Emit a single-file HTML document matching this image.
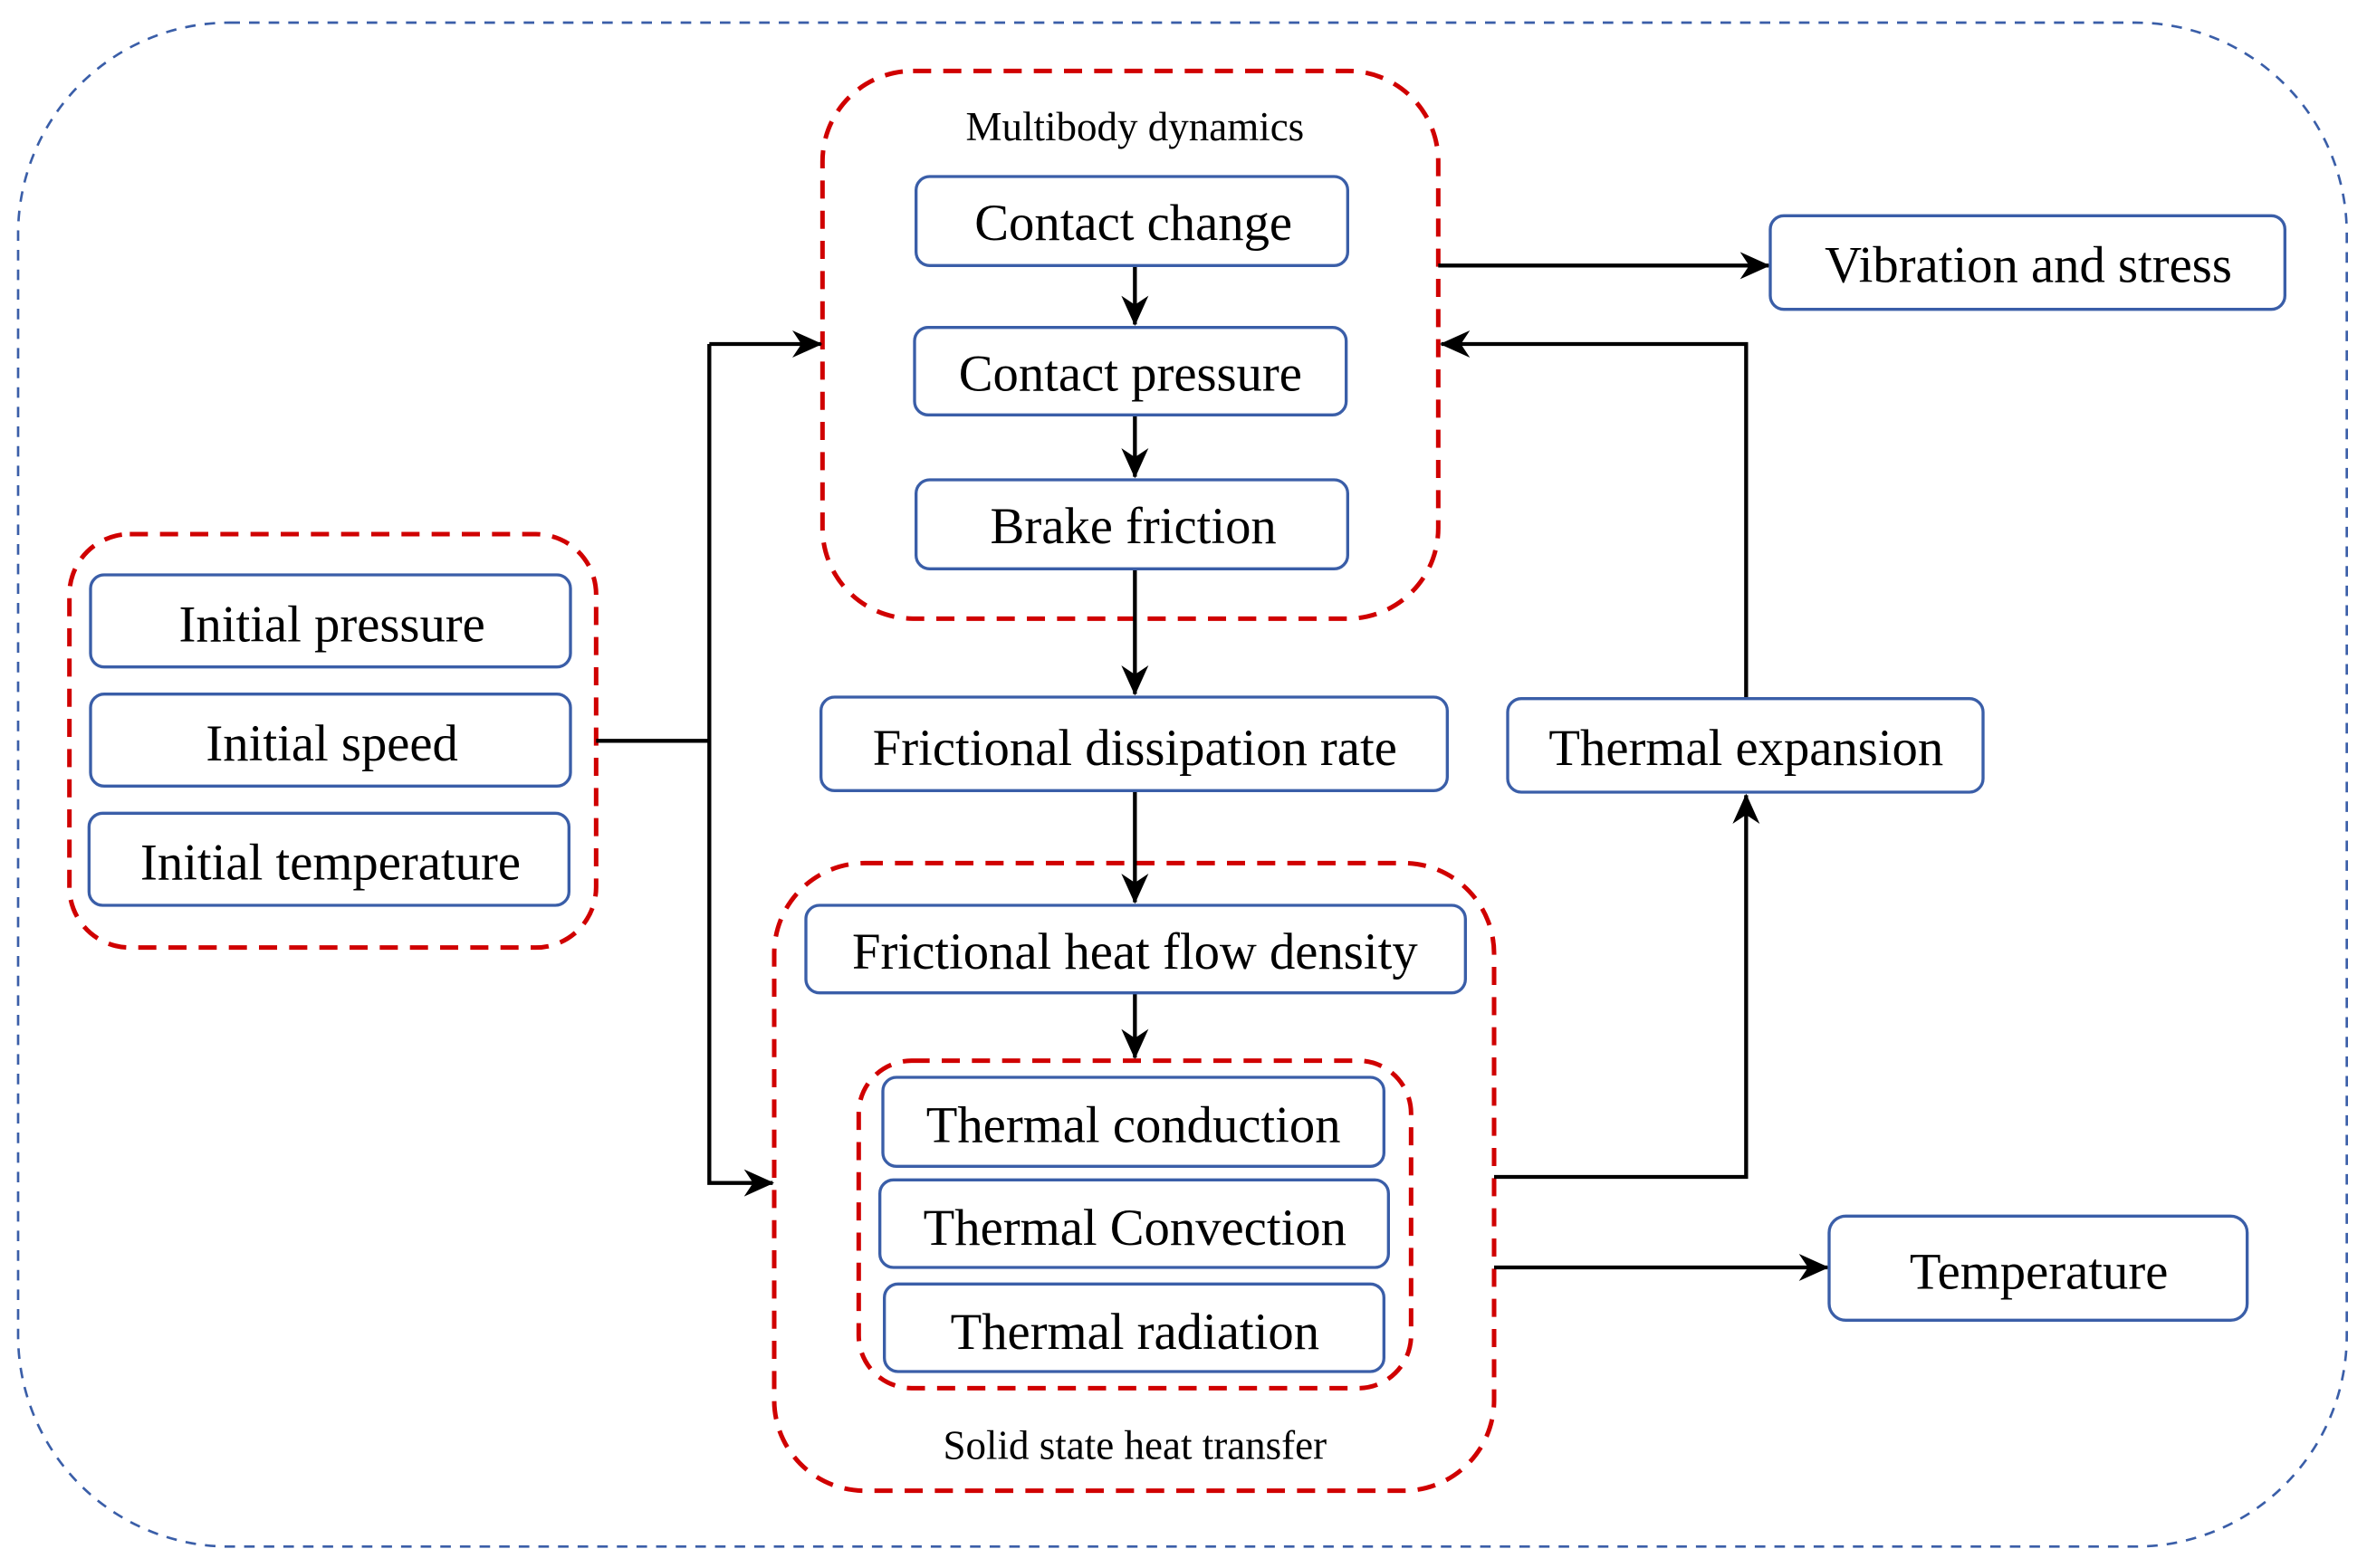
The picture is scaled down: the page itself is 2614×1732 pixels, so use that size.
<!DOCTYPE html>
<html><head><meta charset="utf-8"><style>
html,body{margin:0;padding:0;background:#fff;}
svg{display:block;}
text{font-family:"Liberation Serif",serif;fill:#000;text-anchor:middle;}
.b{fill:#fff;stroke:#3a5ea8;stroke-width:2;}
.r{fill:none;stroke:#d00000;stroke-width:3;stroke-dasharray:12 8;}
.l{fill:none;stroke:#000;stroke-width:2.6;}
.t{font-size:34px;}
.s{font-size:27px;}
</style></head><body>
<svg width="2614" height="1732" viewBox="0 0 1568.4 1039.2" preserveAspectRatio="none">
<defs><marker id="a" markerWidth="20" markerHeight="18" refX="19" refY="9" orient="auto" markerUnits="userSpaceOnUse">
<path d="M0,0 L20,9 L0,18 L6,9 Z" fill="#000"/></marker></defs>
<rect x="12" y="15" width="1543" height="1010" rx="140" fill="none" stroke="#3a5ea8" stroke-width="1.6" stroke-dasharray="7 6"/>
<rect class="r" x="545" y="47" width="408" height="363" rx="60"/>
<rect class="r" x="46" y="354" width="349" height="274" rx="40"/>
<rect class="r" x="513" y="572" width="477" height="416" rx="60"/>
<rect class="r" x="569" y="703" width="366" height="217" rx="35"/>
<path class="l" d="M752 176 V215" marker-end="url(#a)"/>
<path class="l" d="M752 275 V316" marker-end="url(#a)"/>
<path class="l" d="M752 377 V460" marker-end="url(#a)"/>
<path class="l" d="M752 524 V598" marker-end="url(#a)"/>
<path class="l" d="M752 658 V701" marker-end="url(#a)"/>
<path class="l" d="M953 176 H1172" marker-end="url(#a)"/>
<path class="l" d="M1157 463 V228 H955" marker-end="url(#a)"/>
<path class="l" d="M395 491 H470"/>
<path class="l" d="M470 228 V784 H512" marker-end="url(#a)"/>
<path class="l" d="M470 228 H544" marker-end="url(#a)"/>
<path class="l" d="M990 780 H1157 V527" marker-end="url(#a)"/>
<path class="l" d="M990 840 H1211" marker-end="url(#a)"/>
<rect class="b" x="607" y="117" width="286" height="59" rx="9"/>
<rect class="b" x="606" y="217" width="286" height="58" rx="9"/>
<rect class="b" x="607" y="318" width="286" height="59" rx="9"/>
<rect class="b" x="1173" y="143" width="341" height="62" rx="9"/>
<rect class="b" x="999" y="463" width="315" height="62" rx="9"/>
<rect class="b" x="60" y="381" width="318" height="61" rx="9"/>
<rect class="b" x="60" y="460" width="318" height="61" rx="9"/>
<rect class="b" x="59" y="539" width="318" height="61" rx="9"/>
<rect class="b" x="544" y="462" width="415" height="62" rx="9"/>
<rect class="b" x="534" y="600" width="437" height="58" rx="9"/>
<rect class="b" x="585" y="714" width="332" height="59" rx="9"/>
<rect class="b" x="583" y="782" width="337" height="58" rx="9"/>
<rect class="b" x="586" y="851" width="331" height="58" rx="9"/>
<rect class="b" x="1212" y="806" width="277" height="69" rx="11"/>
<text class="s" x="752" y="93">Multibody  dynamics</text>
<text class="t" x="751" y="159">Contact  change</text>
<text class="t" x="749" y="259">Contact  pressure</text>
<text class="t" x="751" y="360">Brake  friction</text>
<text class="t" x="1344" y="187">Vibration  and  stress</text>
<text class="t" x="1157" y="507">Thermal  expansion</text>
<text class="t" x="220" y="425">Initial  pressure</text>
<text class="t" x="220" y="504">Initial  speed</text>
<text class="t" x="219" y="583">Initial  temperature</text>
<text class="t" x="752" y="507">Frictional  dissipation  rate</text>
<text class="t" x="752" y="642">Frictional  heat  flow  density</text>
<text class="t" x="751" y="757">Thermal  conduction</text>
<text class="t" x="752" y="825">Thermal  Convection</text>
<text class="t" x="752" y="894">Thermal  radiation</text>
<text class="s" x="752" y="967">Solid  state  heat  transfer</text>
<text class="t" x="1351" y="854">Temperature</text>
</svg>
</body></html>
